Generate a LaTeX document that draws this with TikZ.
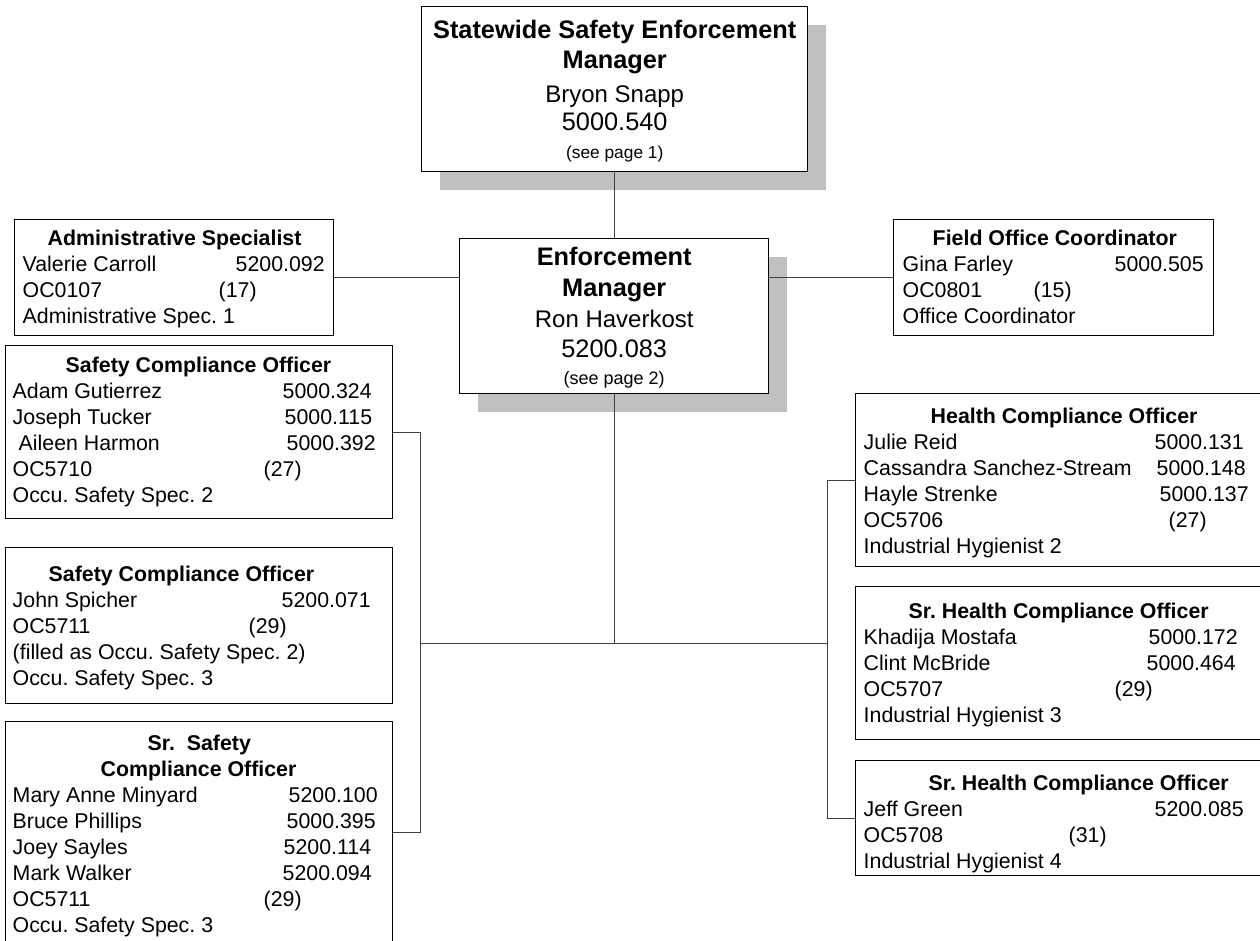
\documentclass[tikz,border=0pt]{standalone}
\usepackage{fontspec}
\setmainfont{Liberation Sans}
\usetikzlibrary{shadows}
\newlength\pxu
\setlength\pxu{0.75pt}
\definecolor{shadowgray}{HTML}{C0C0C0}
\definecolor{linkgray}{HTML}{404040}
\newcommand\ptitle[2]{\hspace*{#1\pxu}\textbf{#2}}
\newcommand\prow[3]{\makebox[#1\pxu][l]{#2}#3}
\tikzset{
  post/.style={draw, line width=1.1pt, rectangle, anchor=north west, inner ysep=0pt,
    inner xsep=8\pxu, align=flush left, font=\fontsize{16}{19.5}\selectfont},
  chief/.style={post, fill=white, align=flush center, inner xsep=0pt,
    drop shadow={shadow xshift=18.5\pxu, shadow yshift=-18.5\pxu, fill=shadowgray, opacity=1}},
  link/.style={draw=linkgray, line width=0.75pt}
}
\begin{document}
\frenchspacing
\begin{tikzpicture}[x=0.75pt, y=-0.75pt]
\useasboundingbox (0,0) rectangle (1260,941);
\clip (0,0) rectangle (1260,941);

% managers
\node[chief, text width=386\pxu, text height=32\pxu, text depth=133\pxu,
  font=\fontsize{19}{21}\selectfont] (boss) at (421,6)
  {\textbf{Statewide Safety Enforcement}\\[1.5pt] \textbf{Manager}\\[4.5pt]
   {\fontsize{18}{21}\selectfont Bryon Snapp}\\ 5000.540\\
   {\fontsize{13}{15}\selectfont (see page 1)}};
\node[chief, text width=309\pxu, text height=27\pxu, text depth=128\pxu,
  font=\fontsize{19}{23}\selectfont] (mgr) at (459,238)
  {\textbf{Enforcement}\\ \textbf{Manager}\\
   {\fontsize{18}{23}\selectfont Ron Haverkost}\\ 5200.083\\[-3pt]
   {\fontsize{13.5}{15}\selectfont (see page 2)}};

% staff
\node[post, text width=303\pxu, text height=26\pxu, text depth=90\pxu] (admin) at (14,219)
  {\ptitle{25}{Administrative Specialist}\\
   \prow{213}{Valerie Carroll}{5200.092}\\
   \prow{196}{OC0107}{(17)}\\
   Administrative Spec. 1};
\node[post, inner xsep=9\pxu, text width=302\pxu, text height=26\pxu, text depth=90\pxu] (field) at (893,219)
  {\ptitle{30}{Field Office Coordinator}\\
   \prow{212}{Gina Farley}{5000.505}\\
   \prow{131}{OC0801}{(15)}\\
   Office Coordinator};

% safety side
\node[post, inner xsep=7\pxu, text width=373\pxu, text height=27\pxu, text depth=146\pxu] (sco1) at (5,345)
  {\ptitle{53}{Safety Compliance Officer}\\
   \prow{270}{Adam Gutierrez}{5000.324}\\
   \prow{272}{Joseph Tucker}{5000.115}\\
   \prow{274}{\hspace*{6\pxu}Aileen Harmon}{5000.392}\\
   \prow{251}{OC5710}{(27)}\\
   Occu. Safety Spec. 2};
\node[post, inner xsep=7\pxu, text width=373\pxu, text height=34\pxu, text depth=122\pxu] (sco2) at (5,547)
  {\ptitle{36}{Safety Compliance Officer}\\
   \prow{269}{John Spicher}{5200.071}\\
   \prow{236}{OC5711}{(29)}\\
   (filled as Occu. Safety Spec. 2)\\
   Occu. Safety Spec. 3};
\node[post, inner xsep=7\pxu, text width=373\pxu, text height=29\pxu, text depth=193\pxu] (srsco) at (5,721)
  {\ptitle{135}{Sr.\ \ Safety}\\
   \ptitle{88}{Compliance Officer}\\
   \prow{276}{Mary Anne Minyard}{5200.100}\\
   \prow{274}{Bruce Phillips}{5000.395}\\
   \prow{271}{Joey Sayles}{5200.114}\\
   \prow{270}{Mark Walker}{5200.094}\\
   \prow{251}{OC5711}{(29)}\\
   Occu. Safety Spec. 3};

% health side
\node[post, text width=402\pxu, text height=30\pxu, text depth=143\pxu] (hco) at (855,393)
  {\ptitle{67}{Health Compliance Officer}\\
   \prow{291}{Julie Reid}{5000.131}\\
   \prow{293}{Cassandra Sanchez-Stream}{5000.148}\\
   \prow{296}{Hayle Strenke}{5000.137}\\
   \prow{305}{OC5706}{(27)}\\
   Industrial Hygienist 2};
\node[post, text width=402\pxu, text height=32\pxu, text depth=121\pxu] (srhco1) at (855,586)
  {\ptitle{45}{Sr. Health Compliance Officer}\\
   \prow{285}{Khadija Mostafa}{5000.172}\\
   \prow{283}{Clint McBride}{5000.464}\\
   \prow{251}{OC5707}{(29)}\\
   Industrial Hygienist 3};
\node[post, text width=402\pxu, text height=30\pxu, text depth=85\pxu] (srhco2) at (855,760)
  {\ptitle{65}{Sr. Health Compliance Officer}\\
   \prow{291}{Jeff Green}{5200.085}\\
   \prow{205}{OC5708}{(31)}\\
   Industrial Hygienist 4};

% connectors
\coordinate (lhub) at (420.7,643);
\coordinate (rhub) at (827,643);
\draw[link] (boss.south) -- (boss.south |- mgr.north);
\draw[link] (admin.east) -- (admin.east -| mgr.west);
\draw[link] (field.west) -- (field.west -| mgr.east);
\draw[link] (mgr.south) -- (mgr.south |- lhub);
\draw[link] (lhub) -- (rhub);
\draw[link] (sco1.east) -- (sco1.east -| lhub) |- (srsco.east);
\draw[link] (hco.west) -- (hco.west -| rhub) |- (srhco2.west);
\end{tikzpicture}
\end{document}
